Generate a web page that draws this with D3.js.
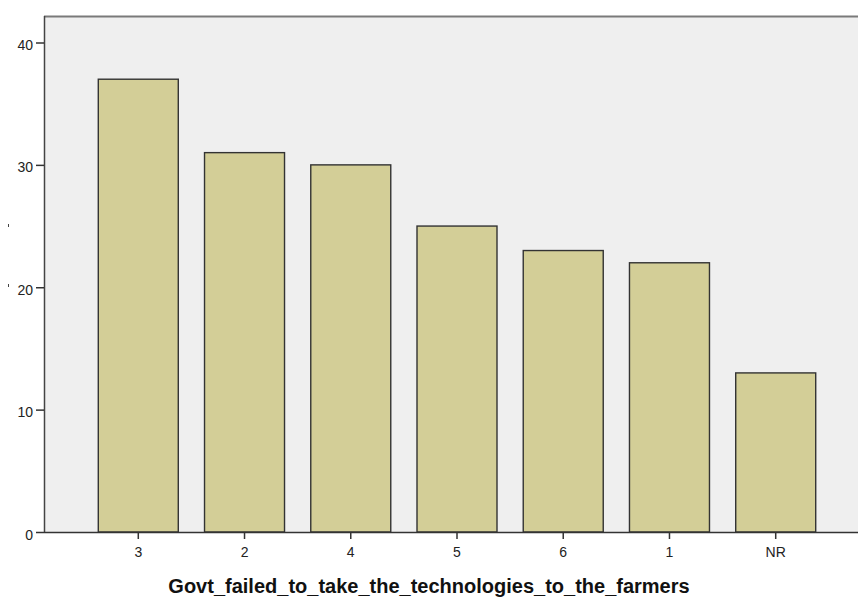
<!DOCTYPE html>
<html>
<head>
<meta charset="utf-8">
<script src="https://cdn.jsdelivr.net/npm/d3@7"></script>
<style>
  html, body { margin: 0; padding: 0; background: #ffffff; }
  svg { display: block; }
  .tick text { font-family: "Liberation Sans", Arial, sans-serif; font-size: 14px; fill: #222; }
</style>
</head>
<body>
<svg id="chart" width="858" height="599"></svg>
<script>
// Responses, ordered by frequency
const categories = ["3", "2", "4", "5", "6", "1", "NR"];
const counts = [37, 31, 30, 25, 23, 22, 13];
const yTicks = [0, 10, 20, 30, 40];
const xTitle = "Govt_failed_to_take_the_technologies_to_the_farmers";

const svg = d3.select("#chart");
const plot = { left: 44, top: 16, right: 870, bottom: 532 };

const x = d3.scaleBand()
  .domain(categories)
  .range([plot.left, plot.right])
  .paddingInner(0.247)
  .paddingOuter(0.511);

const y = d3.scaleLinear()
  .domain([0, 40])
  .range([plot.bottom, 42.5]);

// Plot background
svg.append("rect")
  .attr("x", plot.left)
  .attr("y", plot.top)
  .attr("width", plot.right - plot.left)
  .attr("height", plot.bottom - plot.top)
  .attr("fill", "#efefef");

// Top frame line
svg.append("line")
  .attr("x1", plot.left).attr("x2", 858)
  .attr("y1", plot.top + 0.5).attr("y2", plot.top + 0.5)
  .attr("stroke", "#7a7a7a").attr("stroke-width", 2);

// Bars
svg.append("g")
  .selectAll("rect")
  .data(categories.map((c, i) => ({ c, v: counts[i] })))
  .join("rect")
  .attr("x", d => x(d.c))
  .attr("y", d => y(d.v))
  .attr("width", x.bandwidth())
  .attr("height", d => y(0) - y(d.v))
  .attr("fill", "#d3ce97")
  .attr("stroke", "#333333")
  .attr("stroke-width", 1.4);

// Y axis
const yAxis = svg.append("g")
  .attr("transform", `translate(${plot.left},0)`)
  .call(d3.axisLeft(y).tickValues(yTicks).tickSize(8).tickPadding(3).tickFormat(d3.format("d")));
yAxis.select(".domain").attr("stroke", "#444").attr("stroke-width", 1.5)
  .attr("d", `M0.5,${plot.top}V${plot.bottom}`);
yAxis.selectAll(".tick line").attr("stroke", "#333").attr("stroke-width", 1.5);
yAxis.selectAll(".tick text").attr("dy", "0.5em");

// X axis
const xAxis = svg.append("g")
  .attr("transform", `translate(0,${plot.bottom})`)
  .call(d3.axisBottom(x).tickSize(7).tickPadding(8));
xAxis.select(".domain").attr("stroke", "#333").attr("stroke-width", 1.5)
  .attr("d", `M${plot.left},0.5H858`);
xAxis.selectAll(".tick line").attr("stroke", "#333").attr("stroke-width", 1.5);

// Remnants of the clipped vertical axis title
svg.append("g").selectAll("rect")
  .data([224, 284])
  .join("rect")
  .attr("x", 8).attr("y", d => d)
  .attr("width", 1).attr("height", 3)
  .attr("fill", "#444");

// X axis title
svg.append("text")
  .attr("x", 429)
  .attr("y", 593)
  .attr("text-anchor", "middle")
  .attr("font-family", "Liberation Sans, Arial, sans-serif")
  .attr("font-weight", "bold")
  .attr("font-size", 20)
  .attr("fill", "#111")
  .text(xTitle);
</script>
</body>
</html>
